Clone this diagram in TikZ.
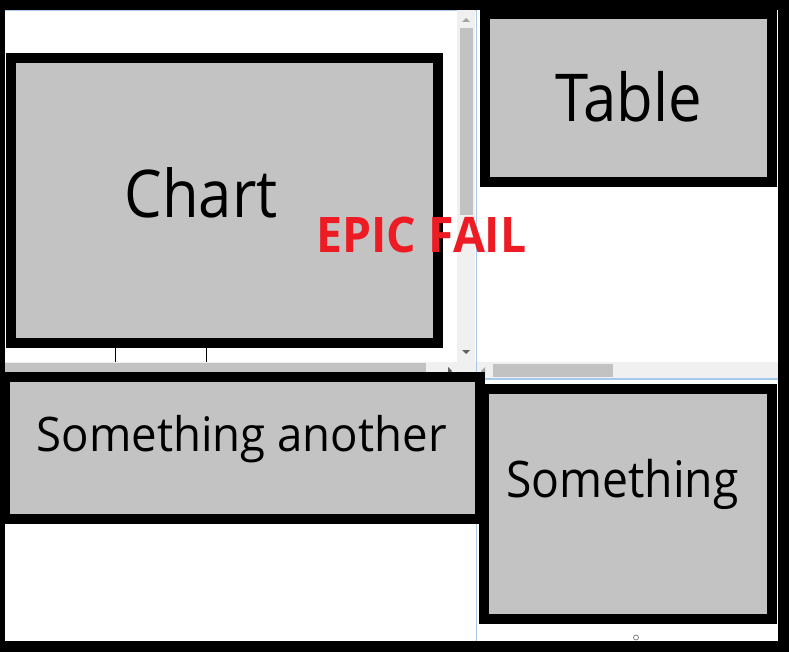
\documentclass[tikz,border=0pt]{standalone}
\usepackage{fontspec}
\setmainfont{Open Sans}
\usepackage{graphicx}
\definecolor{boxgray}{HTML}{C3C3C3}
\definecolor{track}{HTML}{F0F0F0}
\definecolor{thumb}{HTML}{C2C2C2}
\definecolor{winblue}{HTML}{A8C8EA}
\definecolor{epicred}{HTML}{ED1C24}
\definecolor{arrowgray}{HTML}{A3A3A3}
\definecolor{arrowdark}{HTML}{606060}
\newcommand{\fitText}[3]{\resizebox{#2bp}{\height}{\fontsize{#1bp}{#1bp}\selectfont #3}}
\tikzset{
  panel/.style={draw=black, line width=10bp, fill=boxgray},
  lbl/.style={anchor=base west, inner sep=0pt, outer sep=0pt, text=black},
  trackbar/.style={fill=track, draw=none},
  thumbbar/.style={fill=thumb, draw=none},
  blueline/.style={draw=winblue, line width=1bp},
  tick/.style={draw=black, line width=1bp}
}
\begin{document}
\begin{tikzpicture}[x=1bp,y=-1bp]
\useasboundingbox (0,0) rectangle (789,652);
% outer frame
\fill[black] (0,0) rectangle (789,652);
% panels
\fill[white] (5,10) rectangle (476,641);
\fill[white] (476,10) rectangle (778,641);
\draw[blueline] (5,10.5) -- (476,10.5);
\draw[blueline] (476.5,10) -- (476.5,641);
% left panel vertical scrollbar
\fill[trackbar] (457,10) rectangle (475,362);
\fill[thumbbar] (460,28) rectangle (473,215);
\fill[arrowgray] (462,22) -- (470,22) -- (466,18) -- cycle;
\fill[arrowdark] (462,350) -- (470,350) -- (466,354) -- cycle;
% left panel horizontal scrollbar
\fill[trackbar] (5,362) rectangle (476,373);
\fill[thumbbar] (5,363) rectangle (426,372);
\fill[arrowdark] (448,367) -- (448,375) -- (452,371) -- cycle;
\draw[tick] (115,348) -- (115,362);
\draw[tick] (206,348) -- (206,362);
% right panel horizontal scrollbar
\fill[trackbar] (477,362) rectangle (778,378);
\fill[thumbbar] (493,364) rectangle (613,377);
\fill[arrowgray] (485,367) -- (485,375) -- (481,371) -- cycle;
\draw[draw=winblue, line width=2bp] (477,379) -- (778,379);
% small handle
\draw[draw=gray, line width=0.8bp] (636,637.5) circle (2.5);
% boxes
\draw[panel] (11,58) rectangle (438,343);
\draw[panel] (485,14) rectangle (772,182);
\draw[panel] (484,389) rectangle (772,619);
\draw[panel] (5,377) rectangle (480,519);
% labels
\node[lbl] (chart) at (124.5,217) {\fitText{65.8}{153}{Chart}};
\node[lbl] (table) at (555,122) {\fitText{66}{147}{Table}};
\node[lbl] (another) at (36.6,451.5) {\fitText{47.6}{410}{Something another}};
\node[lbl] (something) at (506,497) {\fitText{50.4}{232.5}{Something}};
\node[lbl, text=epicred] (epic) at (316.5,252) {\fitText{49}{210}{\bfseries EPIC FAIL}};
\end{tikzpicture}
\end{document}
